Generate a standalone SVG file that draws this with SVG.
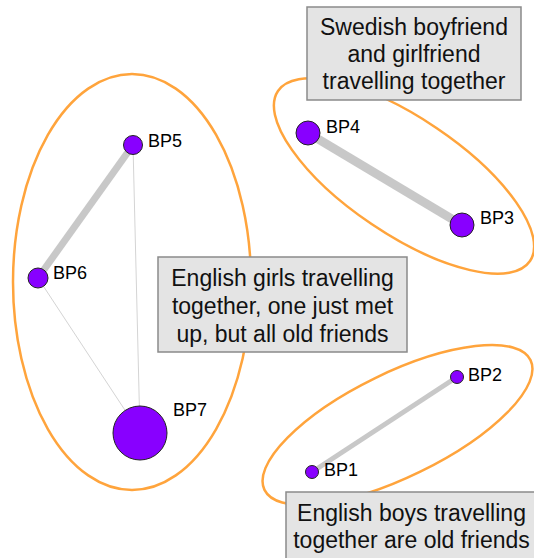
<svg xmlns="http://www.w3.org/2000/svg" width="534" height="558" viewBox="0 0 534 558">
<style>
.hull{fill:none;stroke:#ffa43c;stroke-width:2.5}
.edge{stroke:#c8c8c8;stroke-linecap:butt}
.thin{stroke:#d4d4d4;stroke-width:1}
.node{fill:#8800ff;stroke:#222;stroke-width:1}
.lbl{font-family:"Liberation Sans",Arial,sans-serif;font-size:18px;fill:#000}
.box{fill:#e4e4e4;stroke:#8a8a8a;stroke-width:1.5}
.note{font-family:"Liberation Sans",Arial,sans-serif;font-size:23px;fill:#111;text-anchor:middle}
</style>
<rect width="534" height="558" fill="#fff"/>
<g id="hulls">
<ellipse class="hull" cx="132" cy="282" rx="119" ry="208"/>
<ellipse class="hull" cx="404" cy="176" rx="152" ry="58" transform="rotate(34 404 176)"/>
<ellipse class="hull" cx="397.5" cy="425" rx="148" ry="52" transform="rotate(-26 397.5 425)"/>
</g>
<g id="connectors">
<line class="edge" x1="308" y1="133" x2="462" y2="225" stroke-width="9"/>
<line class="edge" x1="133" y1="145" x2="38" y2="278" stroke-width="7"/>
<line class="thin" x1="133" y1="145" x2="140" y2="433"/>
<line class="thin" x1="38" y1="278" x2="140" y2="433"/>
<line class="edge" x1="457" y1="377" x2="312" y2="472" stroke-width="5"/>
</g>
<g id="note-swedish">
<rect class="box" x="307" y="7" width="214" height="93"/>
<text class="note" x="414" y="35">Swedish boyfriend</text>
<text class="note" x="414" y="62">and girlfriend</text>
<text class="note" x="414" y="89">travelling together</text>
</g>
<g id="note-girls">
<rect class="box" x="158" y="257" width="249" height="95"/>
<text class="note" x="282.5" y="286">English girls travelling</text>
<text class="note" x="282.5" y="314">together, one just met</text>
<text class="note" x="282.5" y="342">up, but all old friends</text>
</g>
<g id="note-boys">
<rect class="box" x="286" y="492" width="251" height="80"/>
<text class="note" x="411.5" y="521">English boys travelling</text>
<text class="note" x="411.5" y="548">together are old friends</text>
</g>
<g id="BP4"><circle class="node" cx="308" cy="133" r="12"/><text class="lbl" x="326" y="133">BP4</text></g>
<g id="BP3"><circle class="node" cx="462" cy="225" r="12"/><text class="lbl" x="480" y="224">BP3</text></g>
<g id="BP5"><circle class="node" cx="133" cy="145" r="9.5"/><text class="lbl" x="148" y="147">BP5</text></g>
<g id="BP6"><circle class="node" cx="38" cy="278" r="10"/><text class="lbl" x="53" y="279">BP6</text></g>
<g id="BP7"><circle class="node" cx="140" cy="433" r="27"/><text class="lbl" x="173" y="416">BP7</text></g>
<g id="BP2"><circle class="node" cx="457" cy="377" r="6.5"/><text class="lbl" x="468" y="381">BP2</text></g>
<g id="BP1"><circle class="node" cx="312" cy="472" r="6.5"/><text class="lbl" x="324" y="476">BP1</text></g>
</svg>
